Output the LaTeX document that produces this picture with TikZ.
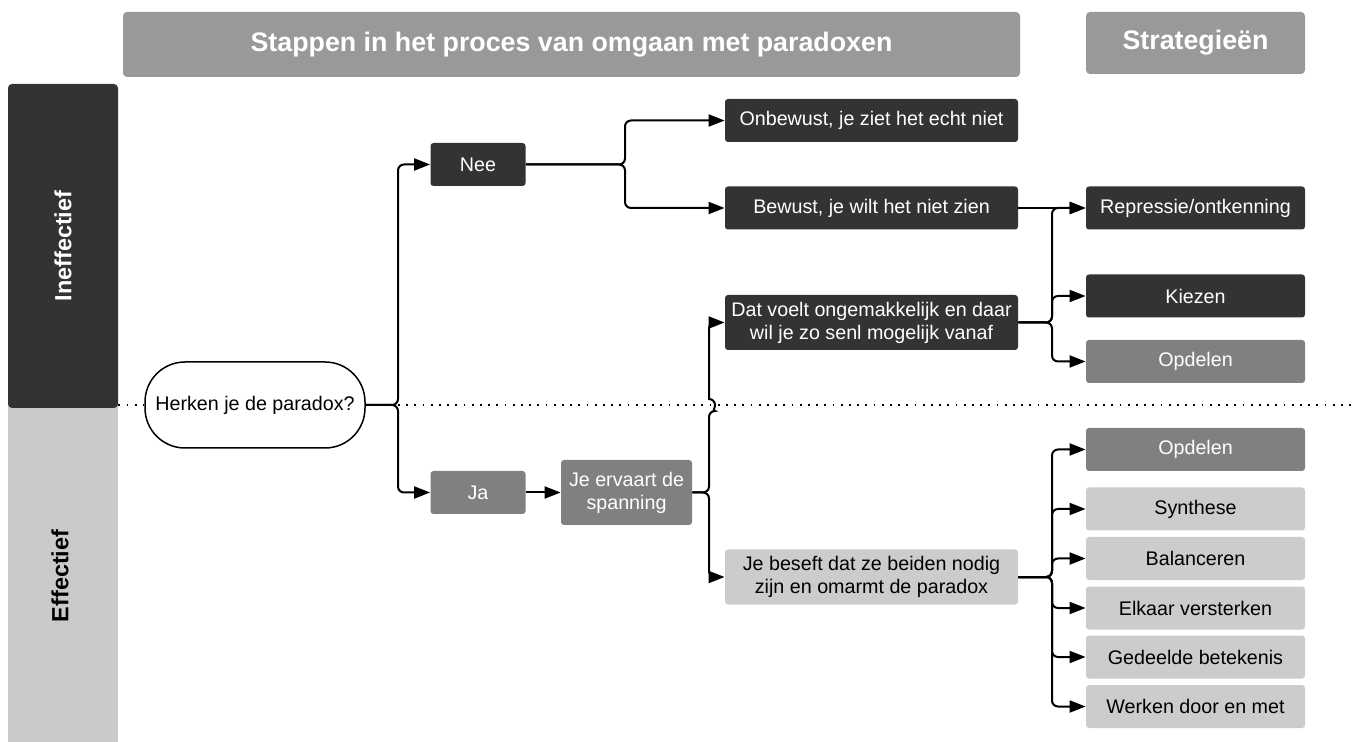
\documentclass[tikz,border=0pt]{standalone}
\usepackage{fontspec}
\setmainfont{Liberation Sans}
\usepackage{tikz}
\usetikzlibrary{arrows.meta,positioning}
\definecolor{boxdark}{HTML}{333333}
\definecolor{boxmid}{HTML}{808080}
\definecolor{boxlight}{HTML}{CCCCCC}
\definecolor{headgrey}{HTML}{999999}
\definecolor{lanelight}{HTML}{CACACA}
\tikzset{
  % ---- blocks ---------------------------------------------------------
  pbox/.style={
    rounded corners=1.5pt, inner sep=0pt, align=center, text=white,
    font=\fontsize{9.85}{11.5}\selectfont},
  pdark/.style={pbox, fill=boxdark},
  pmid/.style={pbox, fill=boxmid},
  plight/.style={pbox, fill=boxlight, text=black},
  pstep/.style={minimum width=47.5pt, minimum height=21.5pt},
  pwide/.style={minimum width=146.5pt, minimum height=21.5pt},
  pstrat/.style={minimum width=109.5pt, minimum height=21.5pt},
  phead/.style={fill=headgrey, rounded corners=2pt, text=white,
    font=\fontsize{13.4}{16}\selectfont\bfseries},
  plane/.style={rounded corners=2pt, inner sep=0pt, rotate=90,
    font=\fontsize{11.7}{14}\selectfont\bfseries},
  pask/.style={draw, line width=0.75pt, fill=white, rounded corners=20pt,
    minimum width=110pt, minimum height=43pt,
    font=\fontsize{9.85}{11.5}\selectfont},
  % ---- connections ----------------------------------------------------
  pflow/.style={
    -{Triangle[length=8pt,width=6pt]}, line width=1pt, rounded corners=3pt},
  pdots/.style={line width=0.9pt, dash pattern=on 0.9pt off 3.2pt},
}

\begin{document}
\begin{tikzpicture}[x=0.5pt, y=-0.5pt]
\useasboundingbox (0,0) rectangle (1354,742);

% ---- lanes and headers -------------------------------------------------
\fill[lanelight] (8,400) rectangle (118,742);
\node[plane, fill=boxdark, text=white, minimum width=162pt, minimum height=55pt]
  (ineff) at (63,246) {Ineffectief};
\node[plane, text=black] (eff) at (60,576) {Effectief};
\node[phead, minimum width=448.5pt, minimum height=32.5pt] (kop) at (571.5,44.5)
  {Stappen in het proces van omgaan met paradoxen};
\node[phead, minimum width=109.5pt, minimum height=31pt] (strat) at (1195.5,43)
  {Strategieën};

% ---- steps ---------------------------------------------------------------
\node[pask] (herken) at (255,405) {Herken je de paradox?};
\node[pdark, pstep] (nee) at (478,164.5) {Nee};
\node[pmid, pstep] (ja) at (478,492.5) {Ja};
\node[pmid, minimum width=65.5pt, minimum height=32.5pt] (ervaart) at (626.5,492.5)
  {Je ervaart de\\spanning};
\node[pdark, pwide] (onbewust) at (871.5,120.5) {Onbewust, je ziet het echt niet};
\node[pdark, pwide] (bewust) at (871.5,208) {Bewust, je wilt het niet zien};
\node[pdark, pwide, minimum height=27.5pt] (voelt) at (871.5,322.5)
  {Dat voelt ongemakkelijk en daar\\wil je zo senl mogelijk vanaf};
\node[plight, pwide, minimum height=27.5pt] (beseft) at (871.5,577)
  {Je beseft dat ze beiden nodig\\zijn en omarmt de paradox};

% ---- strategies ----------------------------------------------------------
\node[pdark, pstrat] (repressie) at (1195.5,208) {Repressie/ontkenning};
\node[pdark, pstrat] (kiezen) at (1195.5,296) {Kiezen};
\node[pmid, pstrat] (opdelenA) at (1195.5,361.5) {Opdelen};
\node[pmid, pstrat] (opdelenB) at (1195.5,449.5) {Opdelen};
\node[plight, pstrat] (synthese) at (1195.5,509) {Synthese};
\node[plight, pstrat] (balanceren) at (1195.5,558.5) {Balanceren};
\node[plight, pstrat] (versterken) at (1195.5,608) {Elkaar versterken};
\node[plight, pstrat] (betekenis) at (1195.5,657) {Gedeelde betekenis};
\node[plight, pstrat] (werken) at (1195.5,706.5) {Werken door en met};

% ---- branch points -------------------------------------------------------
\coordinate (vHerken) at (398,405);
\coordinate (vNee) at (625,164.5);
\coordinate (vErvaart) at (709,492.5);
\coordinate (vVoelt) at (1052,322.5);
\coordinate (vBeseft) at (1052,577);

% ---- lane border ---------------------------------------------------------
\draw[pdots] (ineff.south west |- herken) -- (herken.west);
\draw[pdots] (vHerken) -- (1354,405);

% ---- connections ---------------------------------------------------------
\draw[pflow] (herken.east) -- (vHerken) |- (nee.west);
\draw[pflow] (herken.east) -- (vHerken) |- (ja.west);
\draw[pflow] (ja) -- (ervaart);
\draw[pflow] (nee.east) -- (vNee) |- (onbewust.west);
\draw[pflow] (nee.east) -- (vNee) |- (bewust.west);
\draw[pflow] (ervaart.east) -- (vErvaart) -- (709,411)
  [sharp corners] arc[start angle=90, end angle=-90, radius=6]
  [rounded corners=3pt] |- (voelt.west);
\draw[pflow] (ervaart.east) -- (vErvaart) |- (beseft.west);
\draw[pflow] (bewust) -- (repressie);
\foreach \s in {repressie, kiezen, opdelenA}
  \draw[pflow] (voelt.east) -- (vVoelt) |- (\s.west);
\foreach \s in {opdelenB, synthese, balanceren, versterken, betekenis, werken}
  \draw[pflow] (beseft.east) -- (vBeseft) |- (\s.west);

\end{tikzpicture}
\end{document}
